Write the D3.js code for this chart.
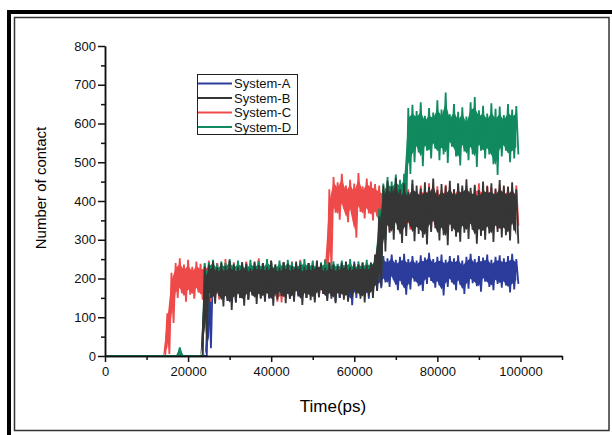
<!DOCTYPE html>
<html>
<head>
<meta charset="utf-8">
<title>Number of contact</title>
<script src="https://cdnjs.cloudflare.com/ajax/libs/d3/7.8.5/d3.min.js"></script>
<style>
  body { margin: 0; background: #fff; }
  svg { display: block; font-family: "Liberation Sans", Arial, sans-serif; }
  .axis path, .axis line { stroke: #111; stroke-width: 1.5; fill: none; }
  .axis text { font-size: 13px; fill: #111; font-family: "Liberation Sans", Arial, sans-serif; }
  .legend text { font-size: 13px; fill: #111; }
</style>
</head>
<body>
<script>
// sampling grid: one bin every 1000 ps, envelope of the trace in each bin
var timePs = d3.range(0, 100000, 1000);

var seriesNames = ["System-A", "System-B", "System-C", "System-D"];

var hiA = [0,0,0,0,0,0,0,0,0,0, 0,0,0,0,0,0,0,0,0,0, 0,0,0,0,0, 200,
  232,240,228,236,244,230,238,226,242,235,230,246,238,232,240,228,236,242,234,230,
  238,244,232,236,240,228,234,246,238,232,236,242,230,238,244,236,232,240,238,246,
  262,
  258,252,262,248,256,264,250,258,246,260,254,266,250,256,262,248,258,252,260,246,
  256,264,250,258,254,262,248,256,260,252,258,264,250];
var loA = [0,0,0,0,0,0,0,0,0,0, 0,0,0,0,0,0,0,0,0,0, 0,0,0,0,0, 20,
  160,150,168,142,155,138,150,162,146,158,165,150,160,148,156,166,152,158,148,160,
  154,162,150,158,146,152,160,148,156,140,150,158,162,131,150,156,160,148,158,170,
  175,
  190,178,196,170,185,158,172,192,180,168,186,194,176,182,156,178,190,170,184,160,
  174,188,180,166,192,178,170,186,176,182,164,172,186];

var hiB = [null,null,null,null,null,null,null,null,null,null, null,null,null,null,null,null,null,null,null,null, null,null,null,
  0, 230,
  236,244,228,240,232,246,236,230,242,238,226,244,234,240,230,246,236,228,242,238,
  232,244,236,230,240,234,246,238,228,242,236,232,240,244,230,238,236,242,234,240,262,
  360, 440,
  452,438,460,430,446,424,455,440,432,448,436,458,428,444,438,452,430,446,440,456,
  434,442,428,450,438,446,432,454,440,436,448,430];
var loB = [null,null,null,null,null,null,null,null,null,null, null,null,null,null,null,null,null,null,null,null, null,null,null,
  0, 40,
  150,135,155,128,142,119,138,150,130,145,156,134,148,140,152,130,146,155,136,148,
  140,158,132,150,144,138,152,160,142,148,136,150,145,140,152,160,148,138,156,150,168,
  180, 270,
  318,300,326,292,310,334,296,315,305,288,320,330,298,312,286,322,308,295,318,302,
  326,290,310,300,316,294,320,306,312,298,324,290];

var hiC = [0,0,0,0,0,0,0,0,0,0, 0,0,0,0,0, 110, 215,
  240,252,236,248,230,244,238,
  238,246,232,240,236,250,234,242,238,230,244,236,232,252,240,234,246,230,238,242,
  236,244,232,248,236,240,234,246,238,
  250, 430,
  462,448,470,440,455,445,472,438,458,450,444,
  440,432,445,428,438,436,442,430,444,426,440,434,446,432,438,428,442,436,430,444,
  434,440,426,438,446,432,440,436,428,442,434,438,430,440];
var loC = [0,0,0,0,0,0,0,0,0,0, 0,0,0,0,0, 5, 85,
  150,162,140,158,148,164,145,
  152,140,148,145,160,150,165,148,158,152,145,156,162,150,148,160,155,140,138,150,
  156,148,160,152,150,158,146,154,160,
  170, 220,
  370,352,380,345,365,305,372,355,368,350,360,
  330,340,322,345,335,328,340,326,338,332,344,330,325,342,336,330,340,328,334,346,
  330,338,326,342,334,330,340,336,328,344,332,338,330,336];

var hiD = [0,0,0,0,0,0,0,0,0,0, 0,0,0,0,0,0,0,0, 22, 0,0,0,0,0, 240,
  242,248,236,244,240,250,238,246,242,234,248,240,244,238,250,242,236,246,240,248,
  242,238,244,250,240,246,236,242,248,240,244,238,246,242,250,236,244,240,248,242,254,
  380, 445,
  462,450,468,455,470,
  640,
  648,632,655,620,640,628,660,636,680,624,650,630,642,618,655,668,634,646,626,652,
  638,644,622,650,636,645];
var loD = [0,0,0,0,0,0,0,0,0,0, 0,0,0,0,0,0,0,0, 0, 0,0,0,0,0, 60,
  175,185,170,180,178,186,172,182,176,184,170,180,186,174,182,178,172,184,176,180,
  174,186,178,170,182,176,184,172,180,178,186,174,180,176,182,170,184,178,176,182,190,
  220, 300,
  340,350,335,345,360,
  470,
  500,525,490,530,510,535,505,520,498,540,515,492,528,505,520,488,530,510,520,495,
  467,515,530,500,510,520];

var xMajorTicks = [0, 20000, 40000, 60000, 80000, 100000];
var xMinorTicks = [10000, 30000, 50000, 70000, 90000, 110000];
var yMajorTicks = [0, 100, 200, 300, 400, 500, 600, 700, 800];
var yMinorTicks = [50, 150, 250, 350, 450, 550, 650, 750];

var w = 612, h = 435;

var svg = d3.select("body").append("svg")
    .attr("width", w)
    .attr("height", h);

// frame: thick outer, thin inner
svg.append("rect")
    .attr("x", 9).attr("y", 12)
    .attr("width", 640).attr("height", 460)
    .attr("fill", "none").attr("stroke", "#000").attr("stroke-width", 4);
svg.append("rect")
    .attr("x", 14.5).attr("y", 17.5)
    .attr("width", 594.5).attr("height", 413)
    .attr("fill", "none").attr("stroke", "#333").attr("stroke-width", 1.5);

var xScale = d3.scaleLinear().domain([0, 110000]).range([105, 562]);
var yScale = d3.scaleLinear().domain([0, 800]).range([356, 46]);

var colors = {
    A: "#2c3c9c",
    B: "#363636",
    C: "#ef4a4a",
    D: "#108a5e"
};

// zigzag through each bin: top of envelope, then bottom half a bin later
function zigzag(hi, lo) {
    var pts = [];
    timePs.forEach(function(t, i) {
        pts.push([t, hi[i]]);
        pts.push([t + 500, lo[i]]);
    });
    return pts;
}

var line = d3.line()
    .defined(function(d) { return d[1] !== null; })
    .x(function(d) { return xScale(d[0]); })
    .y(function(d) { return yScale(d[1]); });

// solid band between the envelopes, the zigzag gives it the spiky edges
function band(hi, lo) {
    return d3.area()
        .defined(function(d, i) { return hi[i] !== null; })
        .x(function(d) { return xScale(d); })
        .y0(function(d, i) { return yScale(lo[i] + (hi[i] - lo[i]) * 0.15); })
        .y1(function(d, i) { return yScale(hi[i] - (hi[i] - lo[i]) * 0.15); })(timePs);
}

var drawOrder = [
    { hi: hiA, lo: loA, c: colors.A },
    { hi: hiC, lo: loC, c: colors.C },
    { hi: hiD, lo: loD, c: colors.D },
    { hi: hiB, lo: loB, c: colors.B }
];

drawOrder.forEach(function(s) {
    svg.append("path")
        .attr("d", band(s.hi, s.lo))
        .attr("fill", s.c)
        .attr("stroke", "none");
    svg.append("path")
        .attr("d", line(zigzag(s.hi, s.lo)))
        .attr("fill", "none")
        .attr("stroke", s.c)
        .attr("stroke-width", 1.8)
        .attr("stroke-linejoin", "bevel");
});

// axes
svg.append("g")
    .attr("class", "axis")
    .attr("transform", "translate(0,356)")
    .call(d3.axisBottom(xScale).tickValues(xMinorTicks).tickSize(4).tickSizeOuter(0).tickFormat(""));
svg.append("g")
    .attr("class", "axis")
    .attr("transform", "translate(0,356)")
    .call(d3.axisBottom(xScale).tickValues(xMajorTicks).tickSize(6).tickSizeOuter(0).tickPadding(5).tickFormat(d3.format("d")));

svg.append("g")
    .attr("class", "axis")
    .attr("transform", "translate(105,0)")
    .call(d3.axisLeft(yScale).tickValues(yMinorTicks).tickSize(4).tickSizeOuter(0).tickFormat(""));
svg.append("g")
    .attr("class", "axis")
    .attr("transform", "translate(105,0)")
    .call(d3.axisLeft(yScale).tickValues(yMajorTicks).tickSize(7).tickSizeOuter(0).tickPadding(2).tickFormat(d3.format("d")));

// titles
svg.append("text")
    .attr("x", 333).attr("y", 412)
    .attr("text-anchor", "middle")
    .style("font-size", "17px")
    .text("Time(ps)");

svg.append("text")
    .attr("transform", "translate(46,188) rotate(-90)")
    .attr("text-anchor", "middle")
    .style("font-size", "15px")
    .text("Number of contact");

// legend
var legend = svg.append("g").attr("class", "legend");
legend.append("rect")
    .attr("x", 197.5).attr("y", 74.5)
    .attr("width", 100).attr("height", 60)
    .attr("fill", "#fff").attr("stroke", "#222").attr("stroke-width", 1);

var legendColors = [colors.A, colors.B, colors.C, colors.D];
seriesNames.forEach(function(name, i) {
    var y = 83.5 + i * 14.5;
    legend.append("line")
        .attr("x1", 198).attr("x2", 232)
        .attr("y1", y).attr("y2", y)
        .attr("stroke", legendColors[i]).attr("stroke-width", 2);
    legend.append("text")
        .attr("x", 234).attr("y", y)
        .attr("dy", "0.35em")
        .text(name);
});
</script>
</body>
</html>
